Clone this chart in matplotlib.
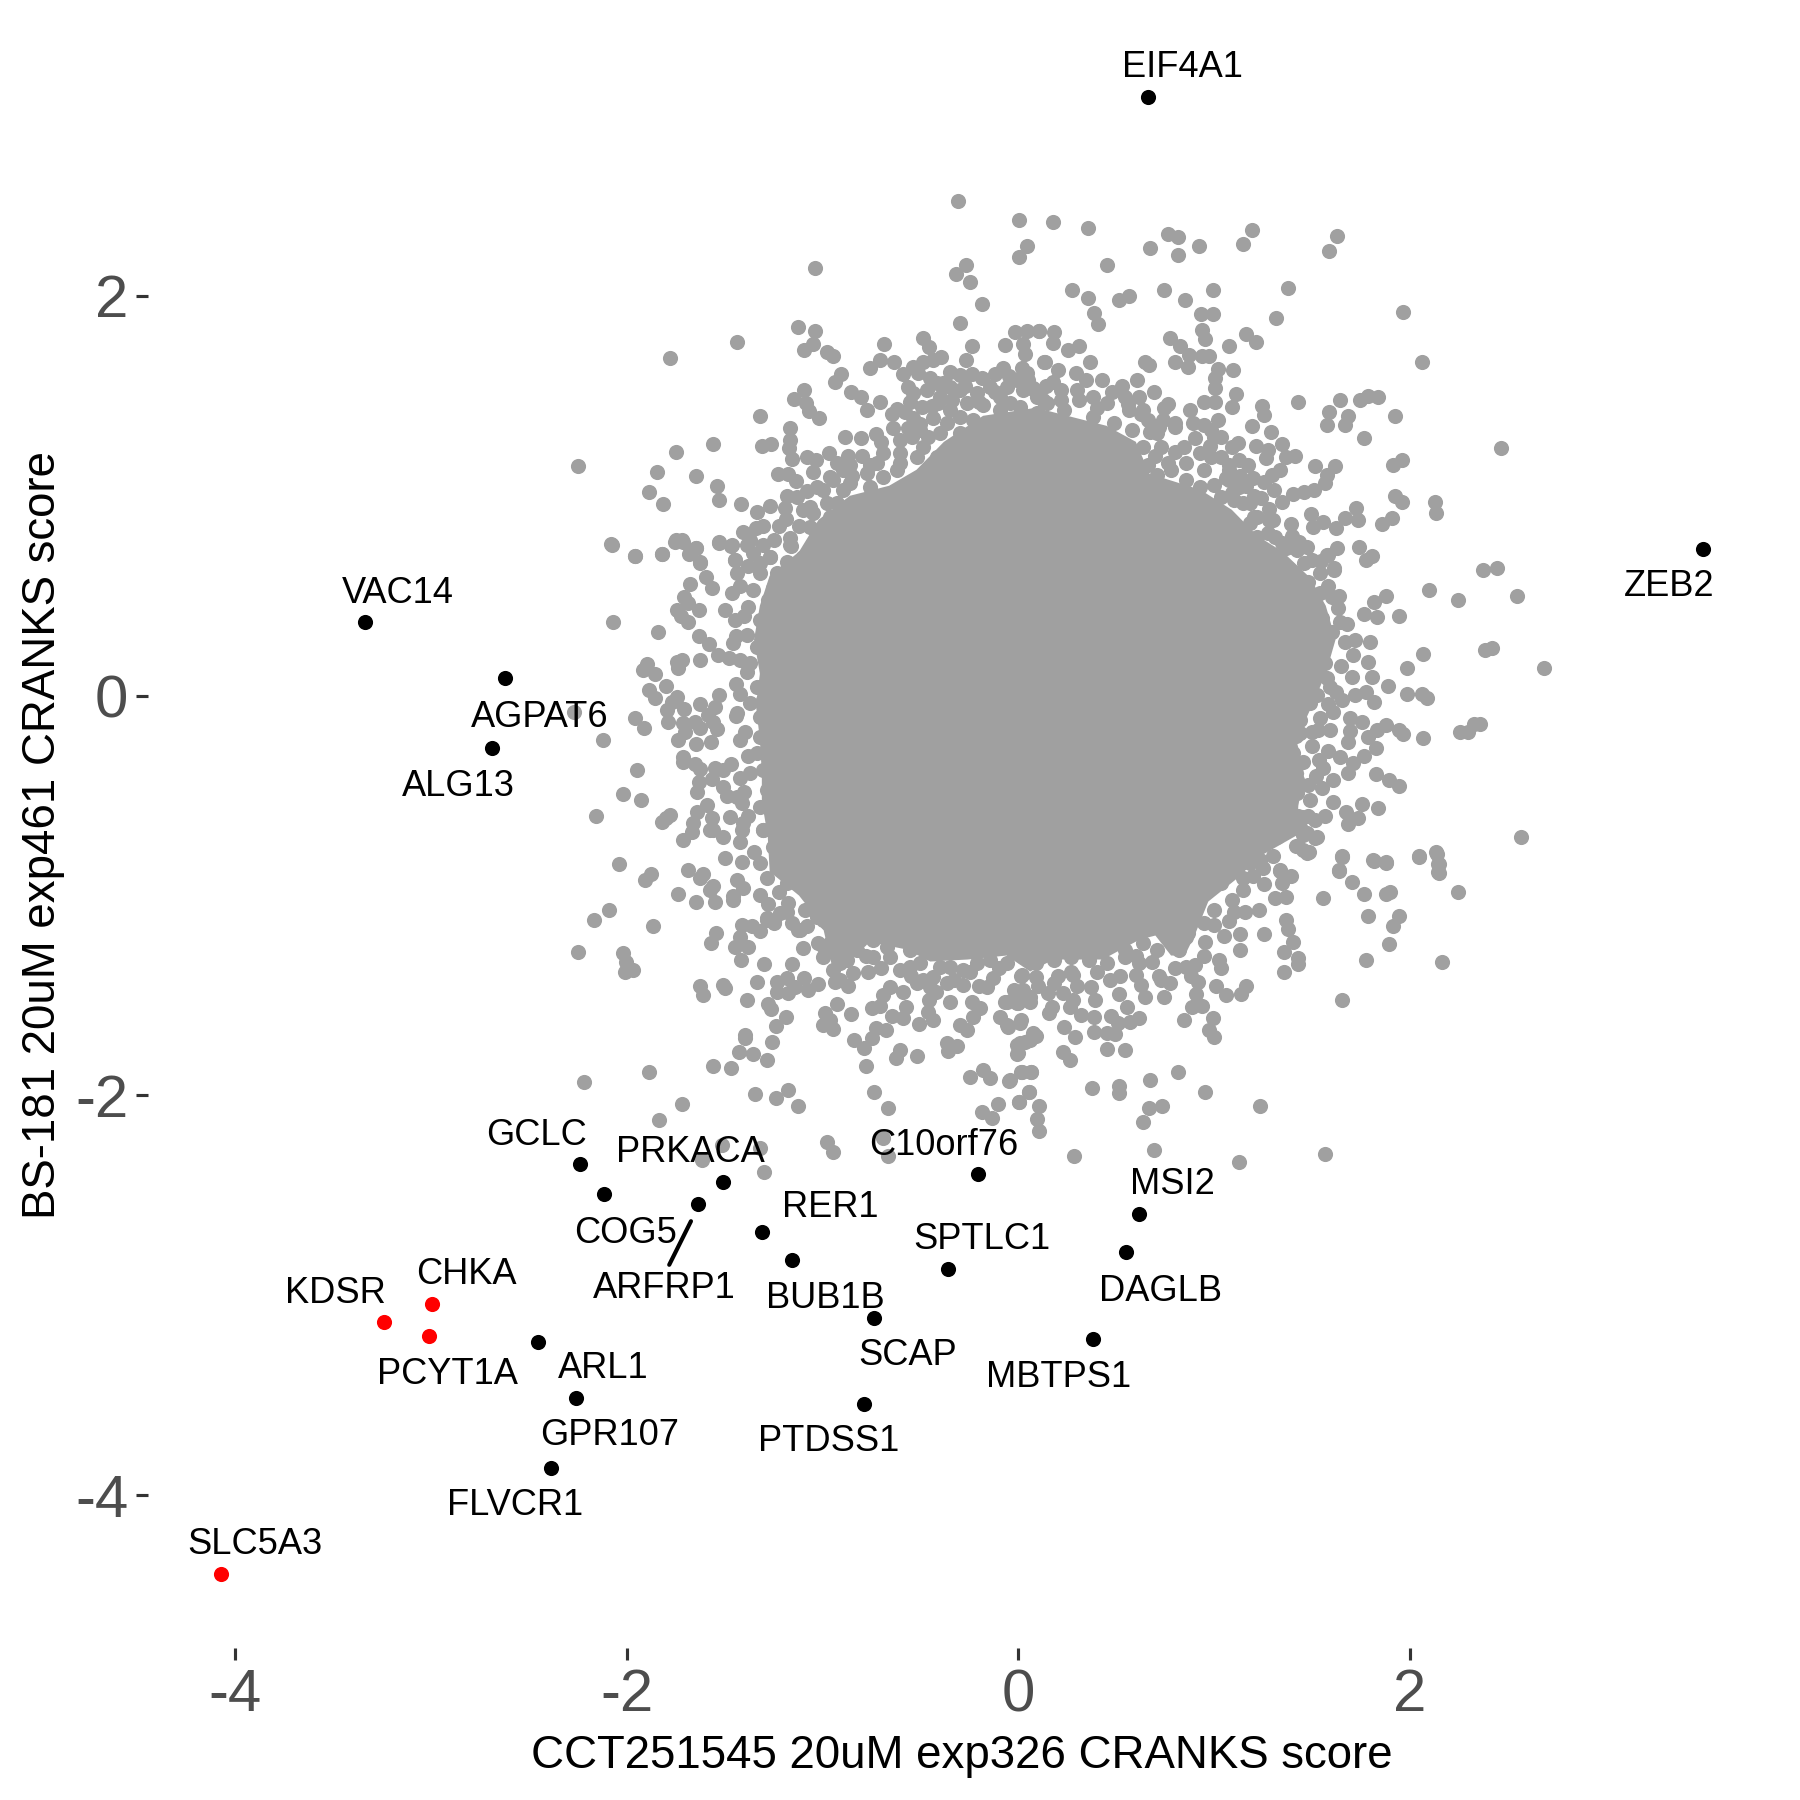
import matplotlib
matplotlib.use('Agg')
import matplotlib.pyplot as plt

plt.rcParams['font.family'] = ['Liberation Sans', 'DejaVu Sans']
plt.rcParams['axes.unicode_minus'] = False

GREY = '#A0A0A0'

# solid middle of the cloud, single points can't be read in there so this is its outline
core_x = [-1.34, -1.32, -1.35, -1.32, -1.27, -1.12, -1.02, -.86, -.66, -.52, -.38, -.18, .09, .45, .60, .67, .93,
          1.09, 1.22, 1.35, 1.49, 1.57, 1.62, 1.57, 1.50, 1.42, 1.46, 1.43, 1.42, 1.24, 1.11, .97, .90, .85, .78,
          .70, .62, .43, .18, .06, -.06, -.26, -.45, -.57, -.82, -.87, -.95, -1.0, -1.12, -1.27, -1.28, -1.31,
          -1.31, -1.32]
core_y = [-.05, .11, .28, .45, .60, .72, .88, 1.00, 1.05, 1.13, 1.27, 1.40, 1.44, 1.35, 1.27, 1.11, 1.03,
          .93, .80, .72, .59, .45, .28, .11, -.05, -.22, -.39, -.55, -.70, -.80, -.92, -1.03, -1.20, -1.30, -1.30,
          -1.20, -1.22, -1.32, -1.32, -1.38, -1.30, -1.32, -1.33, -1.27, -1.22, -1.36, -1.36, -1.15, -1.0, -.88, -.70, -.53,
          -.39, -.22]

# grey points, one list per part of the cloud
grey_top_left = [
    (-.307, 2.477), (.003, 2.377), (.046, 2.248), (.003, 2.196), (-.267, 2.156), (-.317, 2.108), (-.247, 2.068),
    (-.186, 1.958), (-1.037, 2.138), (-.296, 1.866), (-1.127, 1.846), (-1.037, 1.826), (-1.437, 1.768),
    (-1.777, 1.688), (-1.047, 1.758), (-1.096, 1.728), (-.979, 1.718), (-.945, 1.698), (-.686, 1.758),
    (-.707, 1.680), (-.758, 1.638), (-.635, 1.668), (-.485, 1.788), (-.458, 1.746), (-.237, 1.748), (-.266, 1.680),
    (-.906, 1.610), (-.937, 1.568), (-.856, 1.518), (-.804, 1.493), (-.707, 1.468), (-.775, 1.429), (-.622, 1.433),
    (-.647, 1.409), (-1.096, 1.529), (-1.144, 1.486), (-1.086, 1.463), (-1.069, 1.426), (-1.016, 1.388),
    (-1.318, 1.398), (-1.166, 1.338), (-.885, 1.293), (-.804, 1.288), (-.725, 1.308), (-1.558, 1.258),
    (-1.265, 1.258), (-1.308, 1.248), (-1.166, 1.279), (-1.171, 1.238), (-1.749, 1.218), (-1.158, 1.186),
    (-1.081, 1.193), (-1.033, 1.179), (-.965, 1.216), (-.868, 1.199), (-2.247, 1.148), (-1.847, 1.118),
    (-1.648, 1.098), (-1.229, 1.108), (-1.175, 1.108), (-1.137, 1.076), (-1.047, 1.121), (-1.537, 1.048),
    (-1.888, 1.017), (-1.527, .977), (-1.817, .958), (-1.417, .958), (-1.078, 1.026), (-1.180, 1.001),
    (-1.129, .996), (-1.336, .917), (-1.267, .947), (-1.192, .937), (-1.187, .884), (-1.064, .842), (-1.306, .847),
    (-1.340, .837), (-1.408, .817), (-1.166, .787), (-1.163, .751), (-2.079, .757), (-1.749, .777), (-1.716, .777),
    (-1.527, .767), (-1.466, .747), (-1.648, .737), (-1.680, .707), (-1.818, .707), (-1.958, .697), (-1.626, .671),
    (-1.447, .679), (-1.370, .779), (-1.302, .754), (-1.353, .712), (-1.268, .696), (-1.180, .667), (-1.047, .759),
    (-.588, 1.608), (-.536, 1.646), (-.485, 1.671), (-.434, 1.680), (-.397, 1.696), (-.511, 1.613), (-.451, 1.588),
    (-.349, 1.621), (-.298, 1.604), (-.238, 1.609), (-.187, 1.588), (-.119, 1.609), (-.077, 1.638), (-.068, 1.755),
    (-.017, 1.821), (.046, 1.826), (.105, 1.825), (.025, 1.760), (.034, 1.710), (.133, 1.668), (.017, 1.638),
    (.042, 1.613), (-.009, 1.580), (.076, 1.534), (.127, 1.479), (.093, 1.416), (-.562, 1.546), (-.536, 1.513),
    (-.553, 1.471), (-.494, 1.446), (-.409, 1.463), (-.349, 1.546), (-.417, 1.563), (-.213, 1.513), (-.264, 1.463),
    (-.179, 1.454), (-.094, 1.496), (-.043, 1.463), (-.298, 1.396), (-.366, 1.363), (-.434, 1.388), (-.536, 1.388),
    (-.562, 1.338), (-.545, 1.296), (-.605, 1.279), (-.486, 1.246), (-.460, 1.296), (-.605, 1.213), (-.690, 1.213),
    (-.758, 1.154), (-.860, 1.154), (-.928, 1.163), (-.945, 1.079), (-.996, 1.029), (-.894, 1.029), (-1.047, .912),
    (-.979, .962), (-.962, .896), (-.860, .946), (-.792, .962), (-.758, 1.046),
]

grey_top_right = [
    (.175, 2.368), (.355, 2.337), (.454, 2.156), (.674, 2.238), (.764, 2.308), (.815, 2.296), (.815, 2.206),
    (.924, 2.248), (1.145, 2.258), (1.194, 2.328), (1.585, 2.226), (1.625, 2.298), (.275, 2.028), (.355, 1.988),
    (.384, 1.916), (.405, 1.858), (.514, 1.978), (.563, 1.998), (.744, 2.028), (.853, 1.978), (.995, 2.028),
    (1.375, 2.038), (.935, 1.908), (.995, 1.908), (1.315, 1.888), (1.966, 1.918), (.937, 1.830), (.955, 1.785),
    (.184, 1.821), (.175, 1.765), (.107, 1.825), (.253, 1.728), (.311, 1.748), (.775, 1.788), (.828, 1.750),
    (1.076, 1.748), (1.165, 1.810), (1.214, 1.768), (.135, 1.668), (.364, 1.668), (.204, 1.628), (.645, 1.668),
    (.667, 1.654), (.800, 1.668), (.864, 1.646), (.873, 1.705), (.937, 1.698), (.974, 1.698), (2.064, 1.668),
    (1.019, 1.635), (1.094, 1.628), (1.006, 1.588), (1.005, 1.538), (.293, 1.613), (.344, 1.580), (.425, 1.578),
    (.175, 1.571), (.074, 1.538), (.527, 1.549), (.605, 1.580), (.695, 1.518), (.217, 1.529), (1.114, 1.509),
    (.946, 1.468), (1.006, 1.468), (1.092, 1.446), (1.426, 1.468), (1.645, 1.478), (1.745, 1.478), (1.785, 1.499),
    (1.836, 1.496), (1.245, 1.449), (1.256, 1.404), (1.585, 1.421), (1.685, 1.399), (1.667, 1.354), (1.576, 1.354),
    (1.926, 1.398), (1.765, 1.288), (1.194, 1.348), (1.289, 1.318), (.764, 1.458), (.746, 1.438), (.879, 1.429),
    (.627, 1.408), (1.019, 1.379), (1.348, 1.258), (2.466, 1.238), (1.959, 1.178), (1.913, 1.156), (1.515, 1.148),
    (1.616, 1.148), (1.411, 1.199), (1.214, 1.248), (1.275, 1.229), (1.120, 1.263), (1.266, 1.188), (1.174, 1.154),
    (1.366, 1.196), (1.338, 1.129), (1.293, 1.104), (1.253, 1.068), (1.576, 1.104), (1.566, 1.063), (1.165, 1.049),
    (1.205, .997), (1.306, 1.029), (1.512, 1.029), (1.457, 1.017), (1.402, 1.007), (1.348, .971), (1.924, 1.001),
    (1.959, .968), (2.126, .971), (2.135, .916), (1.725, .937), (1.734, .877), (1.667, .887), (1.906, .887),
    (1.855, .857), (1.493, .909), (1.395, .857), (1.503, .846), (1.557, .871), (1.621, .837), (1.278, .934),
    (1.278, .879), (1.435, .767), (1.625, .737), (1.740, .746), (1.804, .701), (1.776, .679), (1.581, .704),
    (1.545, .676), (1.457, .666), (1.375, .637), (1.612, .637), (2.375, .629), (2.446, .637), (.764, 1.163),
    (.709, 1.104), (.664, 1.154), (.673, 1.321), (.718, 1.346), (.800, 1.363), (.946, 1.354), (1.001, 1.296),
    (.846, 1.246), (1.092, 1.246), (.983, 1.196), (1.074, 1.154), (1.074, 1.079), (1.001, 1.054), (1.092, 1.013),
    (1.147, .962), (1.202, .896), (1.311, .796), (1.366, .737),
]

grey_bottom_left = [
    (-2.089, -1.074), (-2.167, -1.124), (-1.868, -1.154), (-2.247, -1.284), (-2.017, -1.289), (-2.005, -1.330),
    (-2.009, -1.384), (-1.966, -1.372), (-1.546, -1.189), (-1.568, -1.235), (-1.413, -1.147), (-1.362, -1.152),
    (-1.319, -1.175), (-1.422, -1.205), (-1.447, -1.255), (-1.379, -1.255), (-1.418, -1.324), (-1.297, -1.344),
    (-1.156, -1.344), (-1.626, -1.452), (-1.609, -1.497), (-1.507, -1.447), (-1.498, -1.464), (-1.336, -1.434),
    (-1.387, -1.524), (-1.234, -1.431), (-1.183, -1.414), (-1.231, -1.481), (-1.175, -1.489), (-1.141, -1.456),
    (-1.095, -1.414), (-1.076, -1.472), (-1.025, -1.444), (-1.277, -1.541), (-1.265, -1.567), (-1.187, -1.606),
    (-1.236, -1.654), (-1.396, -1.697), (-1.396, -1.714), (-1.256, -1.734), (-1.427, -1.784), (-1.357, -1.794),
    (-1.285, -1.824), (-1.558, -1.854), (-1.468, -1.864), (-1.888, -1.884), (-2.217, -1.934), (-1.345, -1.994),
    (-1.238, -2.014), (-1.176, -1.974), (-1.127, -2.054), (-1.716, -2.044), (-1.837, -2.124), (-.735, -1.984),
    (-.666, -2.064), (-.976, -2.231), (-.945, -2.284), (-.666, -2.304), (-.690, -2.214), (-1.299, -2.384),
    (-1.617, -2.323), (-1.515, -2.248), (-1.319, -2.264), (-.928, -1.544), (-.987, -1.589), (-.962, -1.622),
    (-.996, -1.647), (-.945, -1.669), (-.856, -1.594), (-.838, -1.724), (-.787, -1.764), (-.749, -1.714),
    (-.727, -1.664), (-.676, -1.674), (-.749, -1.564), (-.707, -1.552), (-.647, -1.604), (-.587, -1.614),
    (-.575, -1.556), (-.507, -1.644), (-.438, -1.624), (-.460, -1.581), (-.456, -1.522), (-.349, -1.531),
    (-.604, -1.772), (-.626, -1.814), (-.516, -1.804), (-.776, -1.854), (-.366, -1.739), (-.315, -1.752),
    (-.358, -1.776), (-.264, -1.672), (-.298, -1.647), (-.230, -1.606), (-.196, -1.564), (-.238, -1.531),
    (-.247, -1.906), (-.179, -1.872), (-.145, -1.914), (-.046, -1.926), (.017, -1.881), (.063, -1.884),
    (.054, -1.984), (.003, -2.034), (-.106, -2.044), (-.186, -2.084), (-.136, -2.114), (.000, -1.789),
    (.008, -1.739), (.060, -1.722), (-.094, -1.606), (-.051, -1.656), (.008, -1.639), (.077, -1.689),
    (-.060, -1.531), (-.009, -1.539), (.060, -1.531), (.024, -1.472), (-.655, -1.456), (-.689, -1.497),
    (-.587, -1.481), (-.162, -1.456), (-.281, -1.447), (-.434, -1.406), (-.519, -1.439), (-.604, -1.372),
    (-.366, -1.439), (-.451, -1.456), (.017, -1.397), (-1.098, -1.264), (-1.021, -1.239), (-.962, -1.239),
    (-.885, -1.230), (-.809, -1.222), (-.996, -1.305), (-.945, -1.372), (-.936, -1.431), (-.911, -1.422),
    (-.843, -1.389), (-.766, -1.380), (-.877, -1.322), (-.672, -1.255), (-.741, -1.305), (-1.285, -1.122),
    (-1.246, -1.135), (-1.183, -1.080), (-1.124, -1.172), (-.553, -1.272), (-.502, -1.339), (-.349, -1.356),
    (-.247, -1.380), (-.128, -1.414), (-.213, -1.239),
]

grey_bottom_right = [
    (1.338, -.875), (1.393, -.902), (1.348, -.939), (1.256, -.944), (1.311, -1.014), (1.366, -1.005), (1.247, -.864),
    (1.147, -.914), (1.229, -1.072), (1.156, -1.084), (1.074, -1.126), (1.366, -1.122), (1.375, -1.167),
    (1.254, -1.194), (1.134, -1.194), (1.134, -1.272), (1.402, -1.234), (1.357, -1.281), (1.426, -1.314),
    (1.426, -1.342), (1.357, -1.384), (1.025, -1.322), (1.037, -1.364), (1.012, -1.452), (1.061, -1.497),
    (1.138, -1.492), (1.165, -1.452), (.915, -1.434), (.906, -1.492), (.888, -1.556), (.937, -1.552), (.996, -1.614),
    (.846, -1.624), (.974, -1.674), (1.0, -1.706), (.999, -1.147), (.955, -1.231), (.864, -1.189), (.778, -1.197),
    (.782, -1.122), (.892, -1.089), (.901, -1.347), (.855, -1.356), (.773, -1.439), (.727, -1.422), (.746, -1.506),
    (.682, -1.331), (.600, -1.397), (.627, -1.447), (.645, -1.506), (.545, -1.306), (.618, -1.614), (.572, -1.631),
    (.514, -1.494), (.554, -1.556), (.472, -1.601), (.509, -1.639), (.494, -1.694), (.454, -1.686), (.384, -1.684),
    (.454, -1.766), (.545, -1.774), (.468, -1.422), (.390, -1.522), (.384, -1.606), (.372, -1.456), (.280, -1.397),
    (.280, -1.522), (.289, -1.706), (.231, -1.656), (.322, -1.597), (.156, -1.589), (.153, -1.489), (.226, -1.489),
    (.184, -1.439), (.171, -1.556), (.262, -1.556), (.089, -1.406), (.016, -1.402), (-.021, -1.472), (.062, -1.506),
    (-.066, -1.531), (-.002, -1.539), (.016, -1.622), (-.057, -1.647), (.089, -1.702), (.034, -1.731), (-.006, -1.747),
    (-.006, -1.794), (.226, -1.781), (.266, -1.824), (.016, -1.884), (.065, -1.884), (-.044, -1.923), (.054, -1.984),
    (.005, -2.034), (.105, -2.054), (.094, -2.119), (.105, -2.176), (.375, -1.963), (.516, -1.953), (.516, -1.986),
    (.674, -1.924), (.815, -1.884), (.955, -1.984), (.665, -2.064), (.735, -2.054), (.636, -2.134), (1.236, -2.054),
    (.286, -2.304), (.694, -2.274), (1.125, -2.334), (1.566, -2.294), (1.475, -.789), (1.654, -.805), (1.636, -.875),
    (1.816, -.825), (1.876, -.835), (2.046, -.805), (2.136, -.792), (2.147, -.842), (2.147, -.885), (1.447, -.605),
    (1.455, -.697), (1.515, -.714), (1.455, -.772), (1.486, -.784), (1.655, -.804), (1.636, -.874), (1.706, -.934),
    (1.765, -.994), (1.813, -.824), (1.876, -.834), (2.046, -.804), (2.135, -.784), (2.145, -.844), (2.145, -.884),
    (2.245, -.984), (1.876, -.994), (1.898, -.984), (1.556, -1.014), (1.786, -1.104), (1.946, -1.104), (1.915, -1.154),
    (1.895, -1.244), (1.776, -1.324), (2.165, -1.334), (1.655, -1.524),
]

grey_left = [
    (-2.077, .754), (-1.958, .699), (-1.818, .709), (-1.754, .771), (-1.711, .771), (-1.677, .712), (-1.646, .737),
    (-1.626, .662), (-1.597, .592), (-1.566, .537), (-1.677, .557), (-1.706, .496), (-1.689, .462), (-1.629, .427),
    (-1.745, .429), (-1.723, .399), (-1.687, .367), (-2.069, .367), (-1.839, .317), (-1.631, .297), (-1.578, .257),
    (-1.532, .204), (-1.476, .187), (-1.459, .262), (-1.626, .177), (-1.716, .179), (-1.745, .167), (-1.740, .137),
    (-1.898, .157), (-1.915, .129), (-1.856, .107), (-1.798, .047), (-1.885, .027), (-1.856, -.013), (-1.745, -.005),
    (-1.771, -.030), (-1.529, .002), (-1.626, -.043), (-1.549, -.055), (-1.796, -.073), (-1.708, -.068),
    (-2.268, -.083), (-1.958, -.113), (-1.912, -.163), (-1.788, -.133), (-1.711, -.138), (-1.652, -.130),
    (-1.583, -.096), (-1.558, -.130), (-1.537, -.167), (-1.626, -.163), (-1.703, -.180), (-1.737, -.223),
    (-2.120, -.223), (-1.648, -.243), (-1.568, -.233), (-1.711, -.305), (-1.715, -.333), (-1.652, -.343),
    (-1.626, -.368), (-1.549, -.363), (-1.507, -.372), (-1.466, -.343), (-1.946, -.373), (-1.629, -.430),
    (-1.566, -.418), (-1.640, -.483), (-1.507, -.458), (-1.490, -.502), (-1.439, -.505), (-1.422, -.413),
    (-2.018, -.493), (-1.927, -.523), (-1.589, -.547), (-1.641, -.580), (-2.157, -.603), (-1.779, -.597),
    (-1.800, -.613), (-1.818, -.630), (-1.660, -.638), (-1.665, -.680), (-1.566, -.613), (-1.558, -.672),
    (-1.711, -.722), (-1.413, -.538), (-1.473, -.605), (-1.405, -.638), (-1.303, -.672), (-1.422, .009),
    (-1.439, -.088), (-1.396, -.180), (-1.388, .120), (-1.371, .162), (-1.337, -.288), (-1.371, -.388), (-1.527, .762),
    (-1.464, .754), (-1.447, .679), (-1.439, .612), (-1.464, .512), (-1.498, .429), (-1.447, .379), (-1.379, .446),
    (-1.388, .304), (-1.354, .529), (-1.277, .479), (-1.252, .537), (-1.320, .662), (-1.268, .696), (-1.388, .754),
    (-1.166, .754), (-1.175, .662), (-2.038, -.844), (-1.878, -.894), (-1.907, -.924), (-1.689, -.874),
    (-1.609, -.894), (-1.626, -.914), (-1.558, -.954), (-1.575, -.974), (-1.737, -.994), (-1.648, -1.034),
    (-1.548, -1.034), (-1.457, -1.004), (-1.457, -1.024), (-1.437, -.924), (-1.408, -.964), (-1.498, -.814),
    (-1.413, -.831), (-1.320, -.839), (-1.285, -.914), (-1.320, -.997), (-1.277, -1.044), (-1.175, -1.039),
    (-1.217, -1.089), (-1.158, -1.139), (-1.115, -1.172), (-1.285, -1.114), (-1.248, -1.134), (-1.090, -1.072),
    (-1.030, -1.106), (-.979, -1.139), (-1.575, -.672), (-1.507, -.705), (-1.413, -.672), (-1.422, -.730),
    (-1.303, -.672), (-1.251, -.756), (-1.234, -.622),
]

grey_right = [
    (1.578, .704), (1.541, .612), (1.614, .627), (1.481, .571), (2.096, .527), (2.245, .477), (2.547, .497),
    (1.876, .497), (1.816, .469), (1.765, .407), (1.830, .392), (1.946, .397), (1.541, .512), (1.600, .496),
    (1.634, .437), (1.455, .479), (1.549, .387), (1.643, .370), (1.600, .320), (1.668, .270), (1.796, .267),
    (2.065, .207), (2.383, .227), (2.417, .237), (1.985, .137), (2.686, .137), (1.711, .204), (1.787, .170),
    (1.808, .095), (1.706, .095), (1.886, .047), (1.985, .007), (2.063, .007), (2.089, -.013), (1.815, -.033),
    (1.776, .020), (1.719, .004), (1.655, -.023), (1.605, -.083), (1.575, .087), (1.566, .162), (1.592, .045),
    (1.472, .087), (1.694, -.113), (1.757, -.133), (1.694, -.176), (1.682, -.233), (1.876, -.146), (1.830, -.171),
    (1.787, -.205), (1.825, -.263), (1.946, -.171), (1.966, -.193), (2.065, -.213), (2.256, -.183), (2.298, -.183),
    (2.329, -.143), (2.358, -.143), (1.592, -.171), (1.532, -.171), (1.438, -.188), (1.583, -.277), (1.643, -.305),
    (1.765, -.303), (1.711, -.338), (1.682, -.388), (1.537, -.322), (1.554, -.363), (1.605, -.423), (1.825, -.393),
    (1.895, -.423), (1.946, -.453), (1.549, -.463), (1.481, -.447), (1.421, -.422), (1.455, -.330), (1.404, -.288),
    (1.345, -.238), (1.605, -.533), (1.755, -.543), (1.835, -.563), (1.675, -.583), (1.736, -.613), (1.685, -.643),
    (1.566, -.603), (1.515, -.622), (1.430, -.602), (1.490, -.522), (2.567, -.708), (1.472, -.688), (1.524, -.705),
    (1.353, -.672), (1.472, .746), (1.421, .729), (1.387, .537), (1.498, .429), (1.455, .379), (1.524, .295),
    (1.472, .212), (1.524, .005), (1.541, -.113), (1.421, -.071),
]

# clumps close to the solid middle, these overlap a lot so they are rougher
grey_inner = [
    (-.468, 1.529), (-.383, 1.563), (-.298, 1.529), (-.400, 1.496), (-.145, 1.546), (-.060, 1.546), (.025, 1.529),
    (-.094, 1.429), (.008, 1.446), (.093, 1.496), (-.349, 1.429), (-.230, 1.379), (-.128, 1.363), (-.025, 1.346),
    (.076, 1.346), (-.502, 1.329), (-.400, 1.313), (-.298, 1.313), (-.196, 1.313), (-.605, 1.163), (-.519, 1.196),
    (-.417, 1.196), (-.315, 1.213), (-.724, 1.163), (-.621, 1.129), (-.690, 1.096), (-.894, 1.129), (-.962, 1.096),
    (-1.030, 1.046), (-.860, 1.063), (-.775, 1.113), (-.928, .962), (-.843, .879), (-1.064, .946), (-.979, .829),
    (-1.030, .746), (-.894, .762), (-.775, .829), (-.690, .946), (-1.098, .696), (.144, 1.463), (.235, 1.429),
    (.308, 1.479), (.381, 1.496), (.454, 1.463), (.545, 1.496), (.618, 1.496), (.636, 1.429), (.563, 1.429),
    (.381, 1.396), (.271, 1.346), (.490, 1.363), (.709, 1.313), (.800, 1.346), (.891, 1.363), (.983, 1.329),
    (1.037, 1.296), (.581, 1.329), (.636, 1.246), (.727, 1.246), (.855, 1.163), (.928, 1.213), (1.037, 1.196),
    (1.129, 1.179), (.855, 1.079), (.946, 1.129), (1.074, 1.129), (.782, 1.129), (.928, 1.046), (1.037, .996),
    (1.183, .962), (1.129, 1.046), (1.220, .896), (1.275, .812), (1.348, .762), (1.220, .796), (1.402, .746),
    (1.183, .862), (-.996, -1.122), (-.911, -1.189), (-.826, -1.272), (-.911, -1.339), (-.741, -1.222),
    (-.655, -1.305), (-.553, -1.356), (-.485, -1.422), (-.400, -1.356), (-.281, -1.372), (-.213, -1.339),
    (-.145, -1.322), (-.060, -1.339), (.025, -1.305), (-.349, -1.272), (-.468, -1.239), (-.587, -1.205),
    (.089, -1.339), (.180, -1.322), (.271, -1.306), (.362, -1.322), (.454, -1.339), (.545, -1.272), (.636, -1.239),
    (.709, -1.272), (.818, -1.272), (.746, -1.172), (.873, -1.122), (.946, -1.139), (1.001, -1.072), (1.092, -1.022),
    (1.037, -.939), (1.147, -.972), (1.074, -.872), (1.183, -.839), (.855, -1.206), (.618, -1.339), (.271, -1.381),
    (-1.320, .612), (-1.234, .612), (-1.252, .446), (-1.320, .379), (-1.268, .295), (-1.337, .245), (-1.234, .212),
    (-1.286, .112), (-1.337, .045), (-1.303, -.021), (-1.217, .062), (-1.371, -.038), (-1.320, -.105),
    (-1.252, -.088), (-1.320, -.205), (-1.234, -.188), (-1.252, -.288), (-1.303, -.372), (-1.217, -.372),
    (-1.285, -.472), (-1.200, -.505), (-1.320, -.555), (-1.217, -.605), (-1.149, .612), (-1.166, .446),
    (-1.149, .279), (-1.149, .112), (-1.149, -.055), (-1.149, -.221), (-1.132, -.388), (-1.115, -.555),
    (-1.081, -.672), (-1.149, -.772), (-1.234, -.839), (-1.115, -.856), (-1.183, -.939), (-1.047, -.972),
    (-.962, -1.039), (-.894, -.922), (-.928, -1.139), (-.877, -1.239), (-.945, -1.256), (-1.013, -1.006),
    (1.421, .529), (1.387, .379), (1.472, .312), (1.421, .212), (1.541, .229), (1.353, .262), (1.336, .079),
    (1.421, .029), (1.490, -.038), (1.353, -.021), (1.353, -.155), (1.302, -.221), (1.387, -.305), (1.336, -.388),
    (1.421, -.488), (1.302, -.522), (1.353, -.588), (1.234, -.672), (1.438, -.655), (1.302, -.688), (1.234, -.055),
    (1.285, .529), (1.302, .379), (1.234, -.639), (1.319, -.705), (1.183, -.756), (1.234, -.822), (1.336, -.872),
]

# more of the crowded rim, rough placement
grey_rim = [
    (-.85, 1.10), (-.80, 1.20), (-.70, 1.27), (-.64, 1.34), (-.58, 1.42), (-.50, 1.36), (-.44, 1.45), (-.34, 1.48),
    (-.27, 1.55), (-.20, 1.47), (-.12, 1.52), (-.05, 1.60), (.05, 1.58), (.14, 1.55), (.22, 1.48), (.30, 1.53),
    (.40, 1.44), (.48, 1.52), (.56, 1.46), (.66, 1.38), (.74, 1.38), (.70, 1.20), (.80, 1.22), (.90, 1.29),
    (.98, 1.25), (1.06, 1.09), (1.13, 1.10), (1.20, 1.09), (1.10, .98), (1.24, .99), (1.30, .88), (1.40, .80),
    (1.50, .68), (1.58, .55), (1.64, .50), (1.68, .36), (1.72, .28), (1.65, .15), (1.62, .02), (1.58, -.04),
    (1.50, -.18), (1.44, -.12), (1.42, -.20), (1.38, -.26), (1.50, -.25), (1.52, -.40), (1.48, -.60), (1.42, -.75),
    (1.30, -.80), (1.20, -.90), (1.10, -1.08), (1.05, -1.20), (.95, -1.30), (.88, -1.40), (.80, -1.36), (.72, -1.40),
    (.60, -1.30), (.52, -1.40), (.40, -1.38), (.30, -1.45), (.20, -1.40), (.10, -1.45), (-.10, -1.36), (-.20, -1.45),
    (-.33, -1.42), (-.42, -1.48), (-.55, -1.40), (-.70, -1.36), (-.78, -1.30), (-.87, -1.45), (-1.0, -1.25),
    (-1.08, -1.15), (-1.22, -.98), (-1.35, -.78), (-1.38, -.60), (-1.40, -.48), (-1.38, -.30), (-1.42, -.22),
    (-1.44, -.10), (-1.44, .06), (-1.42, .18), (-1.44, .30), (-1.40, .40), (-1.42, .55), (-1.38, .65), (-1.25, .78),
    (-1.22, .85), (-1.12, .85), (-1.10, .93),
]

# labelled genes
black_genes = ['EIF4A1', 'ZEB2', 'VAC14', 'AGPAT6', 'ALG13', 'GCLC', 'COG5', 'PRKACA', 'ARFRP1', 'C10orf76', 'RER1',
               'BUB1B', 'MSI2', 'DAGLB', 'SPTLC1', 'SCAP', 'MBTPS1', 'ARL1', 'GPR107', 'PTDSS1', 'FLVCR1']
black_x = [.663, 3.496, -3.337, -2.622, -2.686, -2.240, -2.117, -1.507, -1.636, -.205, -1.308,
           -1.155, .616, .551, -.358, -.739, .381, -2.452, -2.258, -.786, -2.387]
black_y = [2.997, .735, .367, .086, -.264, -2.342, -2.491, -2.434, -2.543, -2.394, -2.681,
           -2.824, -2.595, -2.784, -2.870, -3.111, -3.220, -3.232, -3.513, -3.542, -3.863]
black_dx = [30, -29, 29, 30, -30, -38, 19, -29, -29, -30, 59, 29, 29, 30, 29, 30, -30, 57, 29, -31, -31]
black_dy = [25, -33, 25, -34, -33, 25, -35, 26, -74, 25, 21, -33, 26, -34, 26, -33, -33, -23, -33, -33, -33]

red_genes = ['CHKA', 'KDSR', 'PCYT1A', 'SLC5A3']
red_x = [-2.997, -3.238, -3.009, -4.070]
red_y = [-3.043, -3.134, -3.203, -4.392]
red_dx = [30, -43, 16, 29]
red_dy = [26, 25, -34, 25]

# repel segment for ARFRP1
seg_x = [-1.672, -1.783]
seg_y = [-2.629, -2.847]

ticks = [-4, -2, 0, 2]

fig = plt.figure(figsize=(6, 6), dpi=300)
ax = fig.add_axes([148 / 1800, 1 - 1648 / 1800, 1642 / 1800, 1638 / 1800])

ax.fill(core_x, core_y, color=GREY, lw=0, zorder=1)
for group in [grey_top_left, grey_top_right, grey_bottom_left, grey_bottom_right, grey_left, grey_right, grey_inner,
              grey_rim]:
    ax.scatter([p[0] for p in group], [p[1] for p in group], s=13.2, c=GREY, linewidths=0, zorder=2)

ax.plot(seg_x, seg_y, color='black', lw=1.0, solid_capstyle='round', zorder=3)
ax.scatter(black_x, black_y, s=13.2, c='black', linewidths=0, zorder=4)
ax.scatter(red_x, red_y, s=13.2, c='red', linewidths=0, zorder=4)


def add_labels(genes, xs, ys, dxs, dys):
    # offsets are in pixels of the 1568 view, 0.2755 turns them into points
    for g, x, y, dx, dy in zip(genes, xs, ys, dxs, dys):
        ax.annotate(g, (x, y), xytext=(dx * 0.2755, dy * 0.2755), textcoords='offset points',
                    ha='center', va='center', fontsize=8.7, color='black', zorder=5)


add_labels(black_genes, black_x, black_y, black_dx, black_dy)
add_labels(red_genes, red_x, red_y, red_dx, red_dy)

ax.set_xlim(-4.445, 3.941)
ax.set_ylim(-4.764, 3.430)
ax.set_xticks(ticks)
ax.set_yticks(ticks)
ax.tick_params(length=2.9, width=0.75, color='#333333', labelcolor='#4D4D4D', labelsize=14.4)
ax.tick_params(axis='x', pad=1.9)
ax.tick_params(axis='y', pad=1.85)
for s in ax.spines.values():
    s.set_visible(False)

ax.set_xlabel('CCT251545 20uM exp326 CRANKS score', fontsize=10.95, color='black', va='center')
ax.set_ylabel('BS-181 20uM exp461 CRANKS score', fontsize=10.95, color='black', va='center')
ax.xaxis.set_label_coords(.4957, -.0662)
ax.yaxis.set_label_coords(-.0637, .4963)

fig.savefig('out.png', dpi=300, facecolor='white')
